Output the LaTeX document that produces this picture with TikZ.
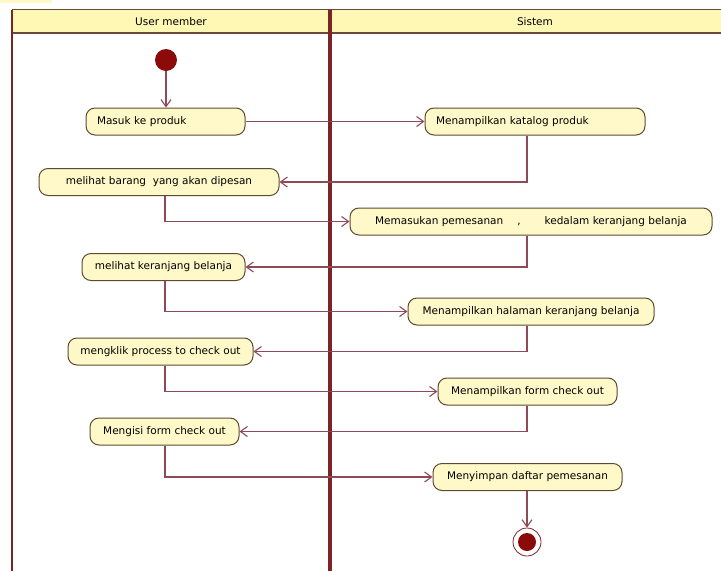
\documentclass[tikz,border=0pt]{standalone}
\usepackage{fontspec}
\setmainfont{DejaVu Sans}
\usetikzlibrary{arrows.meta}
\definecolor{headfill}{HTML}{FFF7B4}
\definecolor{frameline}{HTML}{6B4A3C}
\definecolor{laneline}{HTML}{7A2424}
\definecolor{actfill}{HTML}{FFF8C8}
\definecolor{actline}{HTML}{5E4A2E}
\definecolor{flowline}{HTML}{8E4A57}
\definecolor{dotfill}{HTML}{8B0A0A}

\begin{document}
\begin{tikzpicture}[x=1pt,y=-1pt,
		act/.style={draw=actline, fill=actfill, line width=1pt, rounded corners=9pt,
			minimum height=27pt, inner xsep=11pt, font=\fontsize{10.5}{12}\selectfont},
		flow/.style={flowline, line width=1.1pt, -{Straight Barb[length=7pt,width=10pt]}},
		lanehead/.style={font=\fontsize{10.5}{12}\selectfont}]
		\useasboundingbox (0,0) rectangle (721,571);
		% swimlanes
		\fill[headfill!70] (0,0) rectangle (52,3);
		\fill[headfill] (12,9.5) rectangle (721,33);
		\draw[frameline, line width=1.2pt] (12,9.5) -- (721,9.5);
		\draw[frameline, line width=1.2pt] (12,33) -- (721,33);
		\draw[laneline, line width=1.5pt] (12,9.5) -- (12,571);
		\draw[laneline, line width=3.2pt] (330,9.5) -- (330,571);
		\node[lanehead] (usr) at (171,22) {User member};
		\node[lanehead] (sys) at (535,22) {Sistem};
		\coordinate (usrx) at (165,0);
		\coordinate (sysx) at (527,0);
		% activities
		\node[circle, fill=dotfill, minimum size=22pt, inner sep=0pt] (start) at (166,60) {};
		\node[act, text width=137pt, align=left] (masuk) at (165.5,121.5) {Masuk ke produk};
		\node[act, text width=198pt, align=left] (katalog) at (535,121.5) {Menampilkan katalog produk};
		\node[act, minimum width=240pt] (barang) at (159,182) {melihat barang\ \ yang akan dipesan};
		\node[act, minimum width=362pt] (pesan) at (531,221.5) {Memasukan pemesanan\hspace{14pt},\hspace{24pt}kedalam keranjang belanja};
		\node[act, minimum width=163pt] (keranjang) at (163.5,267) {melihat keranjang belanja};
		\node[act, minimum width=246pt] (halaman) at (531,311.5) {Menampilkan halaman keranjang belanja};
		\node[act, minimum width=185pt] (klik) at (160.5,351.5) {mengklik process to check out};
		\node[act, minimum width=179pt] (form) at (527.5,391.5) {Menampilkan form check out};
		\node[act, minimum width=149pt] (isi) at (164.5,431.5) {Mengisi form check out};
		\node[act, minimum width=189pt] (simpan) at (527.5,477) {Menyimpan daftar pemesanan};
		\node[circle, draw=laneline, fill=white, line width=0.8pt, minimum size=28pt, inner sep=0pt] (stop) at (527,542) {};
		\node[circle, fill=dotfill, minimum size=18pt, inner sep=0pt] (stopdot) at (stop) {};
		% flows
		\draw[flow] (start) -- (masuk.north -| start);
		\draw[flow] (masuk.east) -- (katalog.west);
		\draw[flow] (katalog.south -| sysx) |- (barang);
		\draw[flow] (barang.south -| usrx) |- (pesan);
		\draw[flow] (pesan.south -| sysx) |- (keranjang);
		\draw[flow] (keranjang.south -| usrx) |- (halaman);
		\draw[flow] (halaman.south -| sysx) |- (klik);
		\draw[flow] (klik.south -| usrx) |- (form);
		\draw[flow] (form.south -| sysx) |- (isi);
		\draw[flow] (isi.south -| usrx) |- (simpan);
		\draw[flow] (simpan.south -| stop) -- (stop);
	\end{tikzpicture}
\end{document}
